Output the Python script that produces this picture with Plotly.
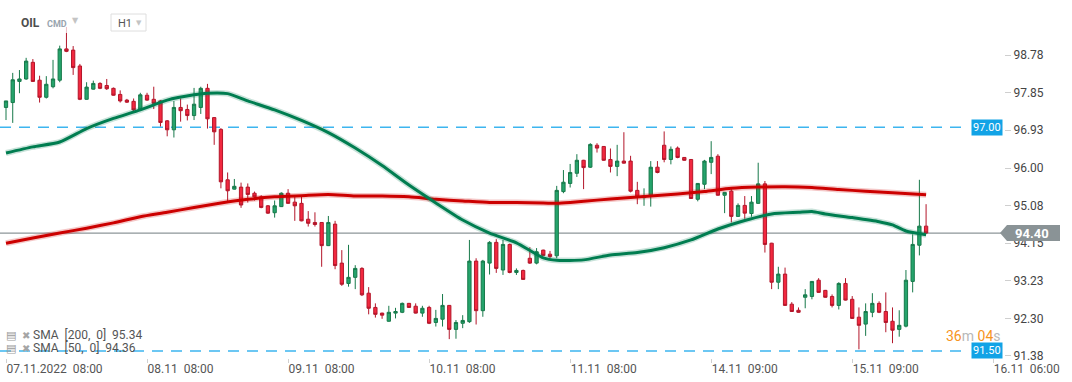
import plotly.graph_objects as go

# ---------------- data ----------------
candle_idx = list(range(138))

opens = [
    97.49, 97.61, 98.13, 98.19, 98.60, 98.16, 97.74, 98.00, 98.16, 98.93,
    98.90, 98.51, 97.69, 97.94, 98.08, 98.03, 97.96, 97.81, 97.67, 97.64,
    97.45, 97.79, 97.69, 97.65, 97.16, 96.94, 97.49, 97.44, 97.29, 97.49,
    97.96, 97.24, 96.95, 95.71, 95.48, 95.53, 95.53, 95.38, 95.29, 95.07,
    94.90, 95.05, 95.38, 95.16, 95.13, 94.74, 94.66, 94.66, 94.09, 94.62,
    93.66, 93.16, 93.31, 93.53, 92.92, 92.57, 92.43, 92.23, 92.43, 92.45,
    92.67, 92.60, 92.43, 92.57, 92.20, 92.28, 92.62, 92.03, 92.18, 92.22,
    93.71, 92.49, 93.66, 94.17, 93.49, 94.12, 93.43, 93.48, 93.78, 93.66,
    93.98, 93.88, 93.84, 95.42, 95.62, 95.87, 96.19, 96.02, 96.56, 96.53,
    96.21, 96.04, 96.17, 96.17, 95.45, 95.27, 95.33, 96.02, 96.56, 96.21,
    96.49, 96.26, 96.21, 95.23, 95.60, 96.14, 96.29, 95.33, 95.43, 94.81,
    95.08, 94.88, 95.13, 95.61, 94.15, 93.19, 93.39, 92.65, 92.50, 92.82,
    92.84, 93.24, 92.99, 92.84, 92.62, 93.16, 92.77, 92.33, 92.16, 92.45,
    92.67, 92.47, 92.23, 92.03, 92.11, 93.21, 94.10, 94.57]

highs = [
    97.65, 98.34, 98.41, 98.71, 98.68, 98.27, 98.26, 98.66, 99.01, 99.47,
    99.00, 98.56, 98.11, 98.15, 98.11, 98.19, 97.98, 97.91, 97.70, 97.71,
    97.85, 97.85, 98.00, 97.67, 97.18, 97.65, 97.71, 97.56, 97.97, 98.00,
    98.07, 97.25, 96.98, 95.89, 95.73, 95.64, 95.62, 95.42, 95.33, 95.09,
    95.20, 95.40, 95.48, 95.29, 95.29, 94.94, 94.91, 94.67, 94.82, 94.70,
    93.98, 94.11, 93.61, 93.56, 93.07, 92.67, 92.44, 92.61, 92.56, 92.69,
    92.68, 92.67, 92.61, 92.61, 92.51, 92.90, 92.63, 92.26, 92.38, 94.23,
    93.78, 93.74, 94.20, 94.25, 94.23, 94.14, 93.53, 93.50, 94.05, 94.03,
    93.99, 93.96, 95.56, 95.95, 96.10, 96.34, 96.20, 96.61, 96.61, 96.54,
    96.48, 96.57, 96.88, 96.30, 95.66, 95.50, 96.17, 96.17, 96.90, 96.53,
    96.53, 96.27, 96.22, 95.63, 96.20, 96.66, 96.34, 95.41, 95.50, 95.13,
    95.31, 95.31, 96.13, 95.68, 94.16, 93.57, 93.55, 92.70, 92.57, 93.02,
    93.22, 93.29, 93.00, 92.89, 93.19, 93.29, 92.85, 92.57, 92.67, 92.92,
    92.72, 92.94, 92.57, 92.50, 93.49, 94.37, 95.71, 95.11]

lows = [
    97.18, 97.11, 97.84, 98.17, 98.12, 97.61, 97.71, 97.96, 98.11, 98.85,
    98.29, 97.67, 97.68, 97.93, 97.94, 97.92, 97.78, 97.61, 97.60, 97.40,
    97.43, 97.65, 97.45, 97.02, 96.78, 96.75, 97.14, 97.17, 97.18, 97.33,
    96.97, 96.57, 95.50, 95.14, 95.47, 95.02, 95.15, 95.20, 95.01, 94.87,
    94.78, 95.04, 95.12, 94.70, 94.69, 94.56, 94.56, 93.57, 94.08, 93.51,
    93.10, 93.08, 93.02, 92.85, 92.40, 92.32, 92.29, 92.22, 92.30, 92.43,
    92.56, 92.42, 92.34, 92.16, 92.10, 92.10, 91.79, 91.80, 92.06, 92.19,
    92.15, 92.34, 93.38, 93.42, 93.37, 93.41, 93.37, 93.25, 93.64, 93.63,
    93.84, 93.78, 93.78, 95.38, 95.52, 95.78, 95.48, 96.00, 96.38, 96.18,
    95.89, 95.80, 96.11, 95.40, 95.11, 95.07, 95.05, 95.87, 96.14, 96.09,
    96.24, 96.18, 95.24, 95.18, 95.48, 95.85, 95.32, 94.89, 94.66, 94.80,
    94.75, 94.80, 95.12, 93.92, 93.02, 93.02, 92.61, 92.46, 92.44, 92.55,
    92.77, 92.93, 92.81, 92.57, 92.52, 92.74, 92.29, 91.54, 91.87, 92.33,
    92.43, 91.96, 91.69, 91.85, 92.08, 92.94, 93.85, 94.38]

closes = [
    97.65, 98.17, 98.19, 98.63, 98.13, 97.74, 98.06, 98.19, 98.93, 98.87,
    98.47, 97.69, 97.99, 98.08, 97.96, 97.95, 97.79, 97.65, 97.62, 97.43,
    97.80, 97.67, 97.59, 97.12, 96.94, 97.49, 97.41, 97.29, 97.57, 97.96,
    97.21, 96.89, 95.66, 95.44, 95.55, 95.09, 95.35, 95.29, 95.03, 94.89,
    95.07, 95.38, 95.13, 95.07, 94.70, 94.64, 94.61, 94.09, 94.66, 93.60,
    93.14, 93.31, 93.53, 92.88, 92.55, 92.40, 92.38, 92.45, 92.47, 92.67,
    92.57, 92.43, 92.55, 92.18, 92.30, 92.62, 92.03, 92.20, 92.25, 93.71,
    92.49, 93.71, 94.17, 93.53, 94.12, 93.43, 93.48, 93.26, 93.66, 93.94,
    93.85, 93.82, 95.45, 95.65, 95.89, 96.19, 96.01, 96.58, 96.49, 96.19,
    96.04, 96.17, 96.12, 95.43, 95.28, 95.29, 96.02, 95.89, 96.21, 96.46,
    96.26, 96.19, 95.25, 95.62, 96.17, 96.26, 95.33, 95.40, 94.81, 95.08,
    94.89, 95.16, 95.61, 94.12, 93.19, 93.39, 92.62, 92.47, 92.45, 92.88,
    93.21, 92.94, 92.82, 92.62, 93.16, 92.75, 92.30, 92.13, 92.47, 92.67,
    92.45, 92.20, 92.01, 92.13, 93.24, 94.12, 94.57, 94.40]

sma50_idx = [0, 4, 8, 12, 16, 20, 24, 28, 30, 33, 36, 40, 44, 48, 52, 56, 60, 64, 68,
             72, 76, 80, 82, 86, 90, 94, 98, 102, 106, 110, 114, 118, 120, 122, 126,
             130, 132, 134, 137]
sma50_val = [96.37, 96.52, 96.64, 96.97, 97.22, 97.43, 97.67, 97.80, 97.84, 97.83,
             97.65, 97.43, 97.17, 96.87, 96.49, 96.06, 95.58, 95.14, 94.72, 94.40,
             94.16, 93.79, 93.73, 93.74, 93.86, 93.92, 94.04, 94.23, 94.50, 94.71,
             94.87, 94.91, 94.93, 94.87, 94.78, 94.68, 94.60, 94.45, 94.36]

sma200_idx = [0, 4, 8, 12, 16, 20, 24, 28, 32, 36, 40, 44, 48, 52, 56, 60, 64, 68, 72,
              76, 80, 82, 84, 88, 92, 96, 100, 104, 108, 112, 116, 120, 124, 128, 132, 137]
sma200_val = [94.15, 94.28, 94.40, 94.52, 94.65, 94.80, 94.91, 95.03, 95.14, 95.23,
              95.29, 95.32, 95.35, 95.31, 95.31, 95.29, 95.23, 95.19, 95.15, 95.15,
              95.14, 95.13, 95.15, 95.21, 95.26, 95.31, 95.36, 95.42, 95.50, 95.53,
              95.54, 95.52, 95.47, 95.43, 95.39, 95.34]

x_tick_idx = [0, 21, 42, 63, 84, 105, 126, 147]
x_tick_text = ["07.11.2022\u00a0\u00a008:00", "08.11\u00a0\u00a008:00", "09.11\u00a0\u00a008:00",
               "10.11\u00a0\u00a008:00", "11.11\u00a0\u00a008:00", "14.11\u00a0\u00a009:00",
               "15.11\u00a0\u00a009:00", "16.11\u00a0\u00a006:00"]
y_ticks = [98.78, 97.85, 96.93, 96.00, 95.08, 94.15, 93.23, 92.30, 91.38]

level_high = 97.00
level_low = 91.50
last_price = 94.40
sma200_last = 95.34
sma50_last = 94.36
countdown_min, countdown_sec = "36", "04"

# ---------------- figure ----------------
W, H = 1072, 382
M_L, M_R, M_T, M_B = 0, 68, 0, 24
PW, PH = W - M_L - M_R, H - M_T - M_B
X_RANGE = [-0.894, 148.6]
Y_RANGE = [91.326, 100.133]
FONT = "Roboto"


def px_x(px):
    return px / PW


def px_y(py):
    return 1 - py / PH


fig = go.Figure()

fig.add_trace(go.Candlestick(
    x=candle_idx, open=opens, high=highs, low=lows, close=closes,
    increasing=dict(line=dict(color="#17794a", width=1), fillcolor="#25a46c"),
    decreasing=dict(line=dict(color="#b3162a", width=1), fillcolor="#f2283f"),
    whiskerwidth=0, showlegend=False, hoverinfo="skip"))

for idx, vals, col in [(sma200_idx, sma200_val, "204,0,0"), (sma50_idx, sma50_val, "0,125,80")]:
    fig.add_trace(go.Scatter(x=idx, y=vals, mode="lines",
                             line=dict(color=f"rgba({col},0.22)", width=6, shape="spline", smoothing=0.6),
                             showlegend=False, hoverinfo="skip"))
    fig.add_trace(go.Scatter(x=idx, y=vals, mode="lines",
                             line=dict(color=f"rgb({col})", width=3, shape="spline", smoothing=0.6),
                             showlegend=False, hoverinfo="skip"))

shapes = []
# horizontal levels
shapes.append(dict(type="line", xref="paper", yref="y", x0=0, x1=px_x(966), y0=level_high, y1=level_high,
                   line=dict(color="#3db5ef", width=1.5, dash="11px,8px"), layer="below"))
shapes.append(dict(type="line", xref="paper", yref="y", x0=0, x1=px_x(966), y0=level_low, y1=level_low,
                   line=dict(color="#3db5ef", width=1.5, dash="11px,8px"), layer="below"))
shapes.append(dict(type="line", xref="paper", yref="y", x0=0, x1=1, y0=last_price, y1=last_price,
                   line=dict(color="#8d9699", width=1.2), layer="below"))
# last price arrow tag
last_frac = (last_price - Y_RANGE[0]) / (Y_RANGE[1] - Y_RANGE[0])
shapes.append(dict(type="path", xref="paper", yref="paper", xsizemode="pixel", ysizemode="pixel",
                   xanchor=1.0, yanchor=last_frac,
                   path="M -4 0 L 3 8 L 56 8 L 56 -8 L 3 -8 Z",
                   fillcolor="#8a9396", line=dict(width=0), layer="above"))
# header mask and H1 box
shapes.append(dict(type="rect", xref="paper", yref="paper", x0=0, x1=px_x(150), y0=px_y(33), y1=1,
                   fillcolor="rgba(255,255,255,0.72)", line=dict(width=0), layer="above"))
shapes.append(dict(type="rect", xref="paper", yref="paper", x0=px_x(111), x1=px_x(146), y0=px_y(31), y1=px_y(14),
                   fillcolor="white", line=dict(color="#dedede", width=1), layer="above"))

ann = []
lbl_font = dict(family=FONT, size=11, color="white")
ann.append(dict(xref="paper", yref="y", x=px_x(1003), y=level_high, xanchor="right", yanchor="middle",
                text=f"{level_high:.2f}", showarrow=False, font=lbl_font, bgcolor="#12a3e6", borderpad=1))
ann.append(dict(xref="paper", yref="y", x=px_x(1003), y=level_low, xanchor="right", yanchor="middle",
                text=f"{level_low:.2f}", showarrow=False, font=lbl_font, bgcolor="#12a3e6", borderpad=1))
ann.append(dict(xref="paper", yref="paper", x=1.0, y=last_frac, xanchor="center", yanchor="middle", xshift=28,
                text=f"<b>{last_price:.2f}</b>", showarrow=False, font=dict(family=FONT, size=13, color="white")))
# countdown
ann.append(dict(xref="paper", yref="paper", x=px_x(1003), y=px_y(336), xanchor="right", yanchor="middle",
                text=(f"<span style='color:#f7941d'>{countdown_min}</span><span style='color:#b8b8b8'>m</span> "
                      f"<span style='color:#f7941d'>{countdown_sec}</span><span style='color:#b8b8b8'>s</span>"),
                showarrow=False, font=dict(family=FONT, size=14)))
# header
ann.append(dict(xref="paper", yref="paper", x=px_x(19), y=px_y(23), xanchor="left", yanchor="middle",
                text="<b>OIL</b>", showarrow=False, font=dict(family=FONT, size=12, color="#4d4d4d")))
ann.append(dict(xref="paper", yref="paper", x=px_x(45), y=px_y(24), xanchor="left", yanchor="middle",
                text="<b>CMD</b>", showarrow=False, font=dict(family=FONT, size=9, color="#98a4ae")))
ann.append(dict(xref="paper", yref="paper", x=px_x(75), y=px_y(21), xanchor="center", yanchor="middle",
                text="▼", showarrow=False, font=dict(family="DejaVu Sans", size=8, color="#c4c4c4")))
ann.append(dict(xref="paper", yref="paper", x=px_x(116), y=px_y(23), xanchor="left", yanchor="middle",
                text="H1", showarrow=False, font=dict(family=FONT, size=11, color="#555")))
ann.append(dict(xref="paper", yref="paper", x=px_x(139), y=px_y(23), xanchor="center", yanchor="middle",
                text="▼", showarrow=False, font=dict(family="DejaVu Sans", size=7, color="#c4c4c4")))
# SMA legend
for row, (period, val) in enumerate([(200, sma200_last), (50, sma50_last)]):
    yy = px_y(335 + row * 13)
    ann.append(dict(xref="paper", yref="paper", x=px_x(4), y=yy, xanchor="left", yanchor="middle",
                    text="▤", showarrow=False, font=dict(family="DejaVu Sans", size=11, color="#9a9a9a")))
    ann.append(dict(xref="paper", yref="paper", x=px_x(20), y=yy, xanchor="left", yanchor="middle",
                    text="✖", showarrow=False, font=dict(family="DejaVu Sans", size=10, color="#a5a5a5")))
    ann.append(dict(xref="paper", yref="paper", x=px_x(31), y=yy, xanchor="left", yanchor="middle",
                    text=f"SMA\u00a0\u00a0[{period},\u00a0\u00a00]\u00a0\u00a0{val:.2f}", showarrow=False,
                    font=dict(family=FONT, size=12, color="#555")))

fig.update_layout(
    width=W, height=H, margin=dict(l=M_L, r=M_R, t=M_T, b=M_B),
    paper_bgcolor="white", plot_bgcolor="white",
    showlegend=False, shapes=shapes, annotations=ann,
    font=dict(family=FONT, size=12, color="#444"),
    xaxis=dict(range=X_RANGE, tickmode="array", tickvals=x_tick_idx, ticktext=x_tick_text,
               ticklabelposition="outside right", ticks="outside", ticklen=4, tickcolor="#d0d0d0",
               showgrid=False, zeroline=False, showline=False, rangeslider=dict(visible=False),
               tickfont=dict(family=FONT, size=12, color="#555")),
    yaxis=dict(range=Y_RANGE, side="right", tickmode="array", tickvals=y_ticks,
               ticktext=[f"{v:.2f}" for v in y_ticks], ticks="outside", ticklen=6, tickcolor="#cfcfcf",
               showgrid=False, zeroline=False, showline=False,
               tickfont=dict(family=FONT, size=12, color="#444")),
)

fig.write_html("out.html", config=dict(displayModeBar=False),
               post_script="document.body.style.margin='0';")
